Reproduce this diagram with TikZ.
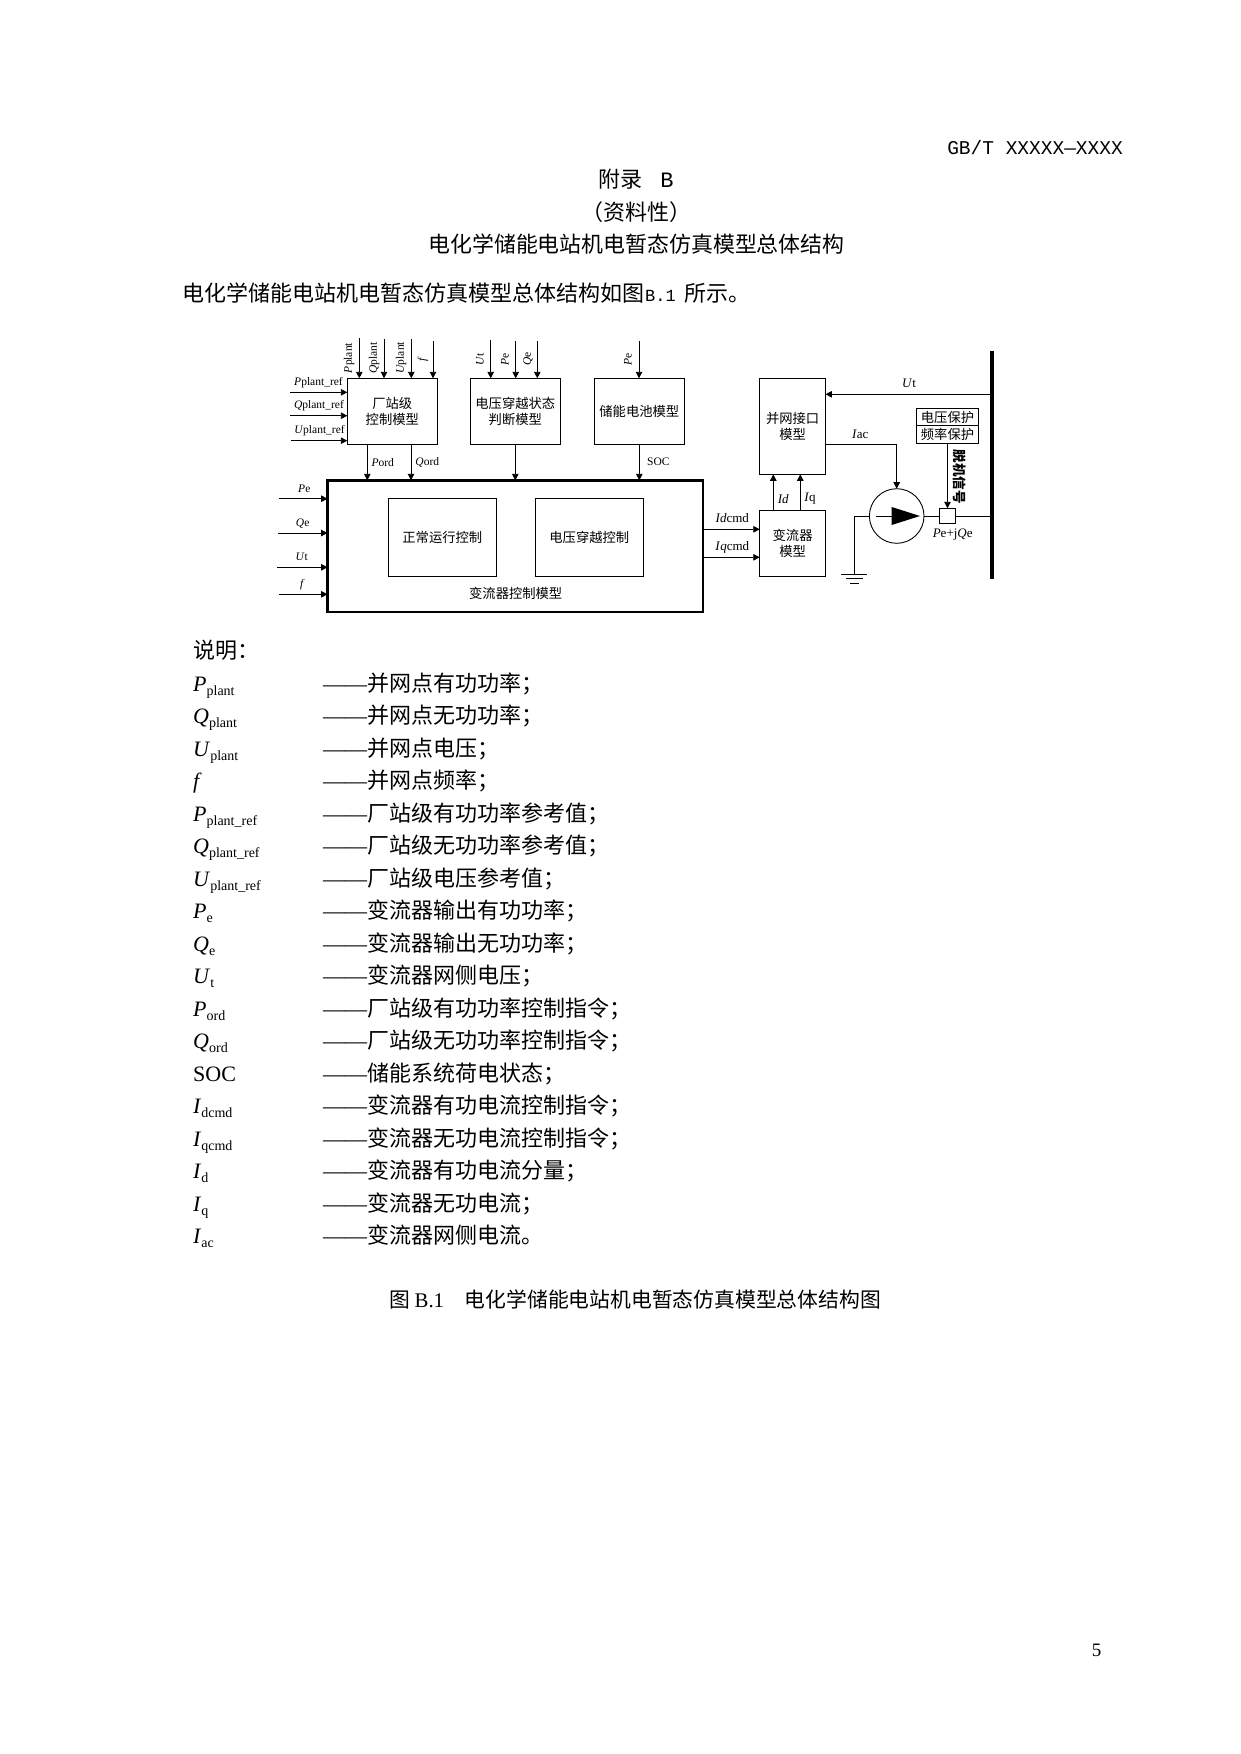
\documentclass[tikz,border=0pt]{standalone}
\usepackage{fontspec}
\setmainfont{Liberation Serif}
\newfontfamily\cjk{Noto Sans CJK SC}
\newfontfamily\monof{Liberation Mono}
\usetikzlibrary{arrows.meta}
\newcommand{\symb}[2]{\textit{#1}\raisebox{-4pt}{\fontsize{14}{14}\selectfont #2}}
\tikzset{
  blockbox/.style={draw,line width=0.9pt,inner sep=0pt,outer sep=0pt,align=center,font=\cjk\fontsize{13.3}{16.7}\selectfont},
  sig/.style={line width=0.9pt,-{Triangle[length=6.5pt,width=6.5pt]}},
  wire/.style={line width=0.9pt},
  lbl/.style={inner sep=0pt,font=\fontsize{11.5}{13}\selectfont},
  lblbig/.style={inner sep=0pt,font=\fontsize{13}{15}\selectfont},
  zhbody/.style={inner sep=0pt,anchor=base west,font=\cjk\fontsize{22}{26}\selectfont},
  symbrow/.style={inner sep=0pt,anchor=base west,font=\fontsize{22}{26}\selectfont},
}
\begin{document}
\begin{tikzpicture}[x=1pt,y=-1pt]
\path[fill=white,use as bounding box] (0,0) rectangle (1240,1754);
% page head
\node[inner sep=0pt,anchor=east,font=\monof\fontsize{19.5}{22}\selectfont] (head) at (1123,147.5) {GB/T XXXXX—XXXX};
\node[inner sep=0pt,font=\cjk\fontsize{22}{26}\selectfont] (annex) at (636,179.5) {附录\hspace{18pt}{\monof B}};
\node[inner sep=0pt,font=\cjk\fontsize{22}{26}\selectfont] (kind) at (636,211.8) {（资料性）};
\node[inner sep=0pt,font=\cjk\fontsize{21.9}{26}\selectfont] (title) at (636.5,244.5) {电化学储能电站机电暂态仿真模型总体结构};
\node[zhbody] (intro) at (182,301.5) {电化学储能电站机电暂态仿真模型总体结构如图\hspace{1pt}{\monof\fontsize{17}{20}\selectfont B.1}\hspace{9pt}所示。};
% blocks
\node[blockbox,minimum width=90pt,minimum height=66pt] (plant) at (392.3,411.3) {厂站级\\控制模型};
\node[blockbox,minimum width=90pt,minimum height=66pt] (state) at (515.3,411.3) {电压穿越状态\\判断模型};
\node[blockbox,minimum width=90pt,minimum height=66pt] (batt) at (639.3,411.3) {储能电池模型};
\node[blockbox,line width=2.4pt,minimum width=375.7pt,minimum height=131.7pt] (ctrl) at (515.4,546.15) {};
\node[blockbox,minimum width=108pt,minimum height=78pt] (normal) at (442.3,537.3) {正常运行控制};
\node[blockbox,minimum width=108pt,minimum height=78pt] (lvrt) at (589.3,537.3) {电压穿越控制};
\node[inner sep=0pt,font=\cjk\fontsize{13.3}{16}\selectfont] (ctrllab) at (515.7,593.3) {变流器控制模型};
\node[blockbox,minimum width=65.7pt,minimum height=96pt] (iface) at (792.6,426.3) {并网接口\\模型};
\node[blockbox,minimum width=65.7pt,minimum height=66pt] (conv) at (792.6,543.3) {变流器\\模型};
\node[blockbox,minimum width=62.4pt,minimum height=17.4pt] (volt) at (947.5,417) {电压保护};
\node[blockbox,minimum width=62.4pt,minimum height=18pt] (freq) at (947.5,434.7) {频率保护};
\node[blockbox,minimum width=16.4pt,minimum height=15.4pt] (pq) at (947.5,516) {};
\node[draw,line width=0.9pt,circle,inner sep=0pt,outer sep=0pt,minimum size=54.6pt] (src) at (896.7,516) {};
\node[fill=black,inner sep=0pt,outer sep=0pt,minimum width=4pt,minimum height=227.7pt] (bus) at (992.3,465) {};
% arrows into the top of the blocks
\foreach \xx/\yy/\blk [count=\i] in {359.3/338/plant,384/339/plant,411.3/339/plant,433/341/plant,490.7/340/state,515.7/341/state,537.3/341/state,639/341/batt}{
  \coordinate (top\i) at (\xx,\yy);
  \draw[sig] (top\i) -- (top\i|-\blk.north);
}
\foreach \xx/\yy/\txt [count=\i] in {349/358/\textit{P}plant,374/358/\textit{Q}plant,401/358/\textit{U}plant,423/359/\textit{f},480/359/\textit{U}t,505/359/\textit{P}e,528/359/\textit{Q}e,628/359/\textit{P}e}{
  \node[lbl,rotate=90] (toplab\i) at (\xx,\yy) {\txt};
}
% plant references
\foreach \xx/\yy/\lx/\ly/\txt [count=\i] in {290/392.3/318.5/382.7/\textit{P}plant\_ref,290/415.7/319/405.7/\textit{Q}plant\_ref,291/440.7/319.5/430.7/\textit{U}plant\_ref}{
  \coordinate (ref\i) at (\xx,\yy);
  \draw[sig] (ref\i) -- (ref\i-|plant.west);
  \node[lbl] (reflab\i) at (\lx,\ly) {\txt};
}
% converter control inputs
\foreach \xx/\yy/\lx/\ly/\txt [count=\i] in {279/498.7/304.3/488.3/\textit{P}e,278/533/302.7/524/\textit{Q}e,277/567.3/301.7/557/\textit{U}t,279/594.3/302.3/585/\textit{f}}{
  \coordinate (inp\i) at (\xx,\yy);
  \draw[sig] (inp\i) -- (inp\i-|ctrl.west);
  \node[lbl] (inplab\i) at (\lx,\ly) {\txt};
}
% blocks down to control
\coordinate (pord) at (367.3,444.3);
\coordinate (qord) at (411,444.3);
\draw[sig] (pord) -- (pord|-ctrl.north);
\draw[sig] (qord) -- (qord|-ctrl.north);
\draw[sig] (state.south) -- (state.south|-ctrl.north);
\draw[sig] (batt.south) -- (batt.south|-ctrl.north);
\node[lbl] (pordlab) at (382.7,462.3) {\textit{P}ord};
\node[lbl] (qordlab) at (427.3,462.3) {\textit{Q}ord};
\node[lbl] (soclab) at (658.3,462) {SOC};
% control to converter to interface
\coordinate (idout) at (703,529.3);
\coordinate (iqout) at (703,557.3);
\draw[sig] (idout) -- (idout-|conv.west);
\draw[sig] (iqout) -- (iqout-|conv.west);
\node[lblbig] (idcmd) at (732.3,518.3) {\textit{Id}cmd};
\node[lblbig] (iqcmd) at (732.3,547) {\textit{I}\textit{q}cmd};
\coordinate (idup) at (773.3,510.3);
\coordinate (iqup) at (800.3,510.3);
\draw[sig] (idup) -- (idup|-iface.south);
\draw[sig] (iqup) -- (iqup|-iface.south);
\node[lblbig] (idlab) at (783.3,499) {\textit{Id}};
\node[lblbig] (iqlab) at (810,499) {\textit{I}q};
% network side
\coordinate (utbus) at (990.3,394.3);
\draw[sig] (utbus) -- (utbus-|iface.east);
\node[lblbig] (utlab) at (909,383.3) {\textit{U}t};
\coordinate (iacout) at (825,444.3);
\draw[sig] (iacout) -- (iacout-|src.north) -- (src.north);
\node[lblbig] (iaclab) at (860.3,434.3) {\textit{I}ac};
\draw[wire] (src.east) -- (pq.west);
\draw[wire] (pq.east) -- (bus.west|-pq.east);
\draw[sig] (freq.south) -- (pq.north);
\node[inner sep=0pt,rotate=-90,font=\cjk\bfseries\fontsize{13.5}{15}\selectfont] (trip) at (959.3,476.7) {脱机信号};
\node[lblbig] (pqlab) at (952.7,534.7) {\textit{P}e+j\textit{Q}e};
% source symbol
\draw[wire] (876,516) -- (892,516);
\fill (891.7,507) -- (920,516) -- (891.7,525) -- cycle;
% ground
\coordinate (gnd) at (854.3,574.3);
\draw[wire] (src.west) -- (src.west-|gnd) -- (gnd);
\draw[wire] (841.3,574.3) -- (867.3,574.3);
\draw[wire] (846,578.7) -- (863,578.7);
\draw[wire] (850,583) -- (859,583);
% legend
\node[zhbody] (legendhead) at (193,658) {说明：};
\foreach \sym/\txt [count=\i] in {
  {\symb{P}{plant}}/并网点有功功率；,
  {\symb{Q}{plant}}/并网点无功功率；,
  {\symb{U}{plant}}/并网点电压；,
  {\textit{f}}/并网点频率；,
  {\symb{P}{plant\_ref}}/厂站级有功功率参考值；,
  {\symb{Q}{plant\_ref}}/厂站级无功功率参考值；,
  {\symb{U}{plant\_ref}}/厂站级电压参考值；,
  {\symb{P}{e}}/变流器输出有功功率；,
  {\symb{Q}{e}}/变流器输出无功功率；,
  {\symb{U}{t}}/变流器网侧电压；,
  {\symb{P}{ord}}/厂站级有功功率控制指令；,
  {\symb{Q}{ord}}/厂站级无功功率控制指令；,
  {SOC}/储能系统荷电状态；,
  {\symb{I}{dcmd}}/变流器有功电流控制指令；,
  {\symb{I}{qcmd}}/变流器无功电流控制指令；,
  {\symb{I}{d}}/变流器有功电流分量；,
  {\symb{I}{q}}/变流器无功电流；,
  {\symb{I}{ac}}/变流器网侧电流。}{
  \pgfmathsetmacro\yy{691.3+32.5*(\i-1)}
  \node[symbrow] (sym\i) at (193,\yy) {\sym};
  \node[zhbody] (mean\i) at (323,\yy) {{\rmfamily ——}\txt};
}
% caption and page number
\node[inner sep=0pt,anchor=base west,font=\cjk\fontsize{20.8}{24}\selectfont] (caption) at (389,1307.5) {图 {\rmfamily B.1}\hspace{20.8pt}电化学储能电站机电暂态仿真模型总体结构图};
\node[inner sep=0pt,font=\fontsize{19}{22}\selectfont] (pageno) at (1096.5,1650) {5};
\end{tikzpicture}
\end{document}
